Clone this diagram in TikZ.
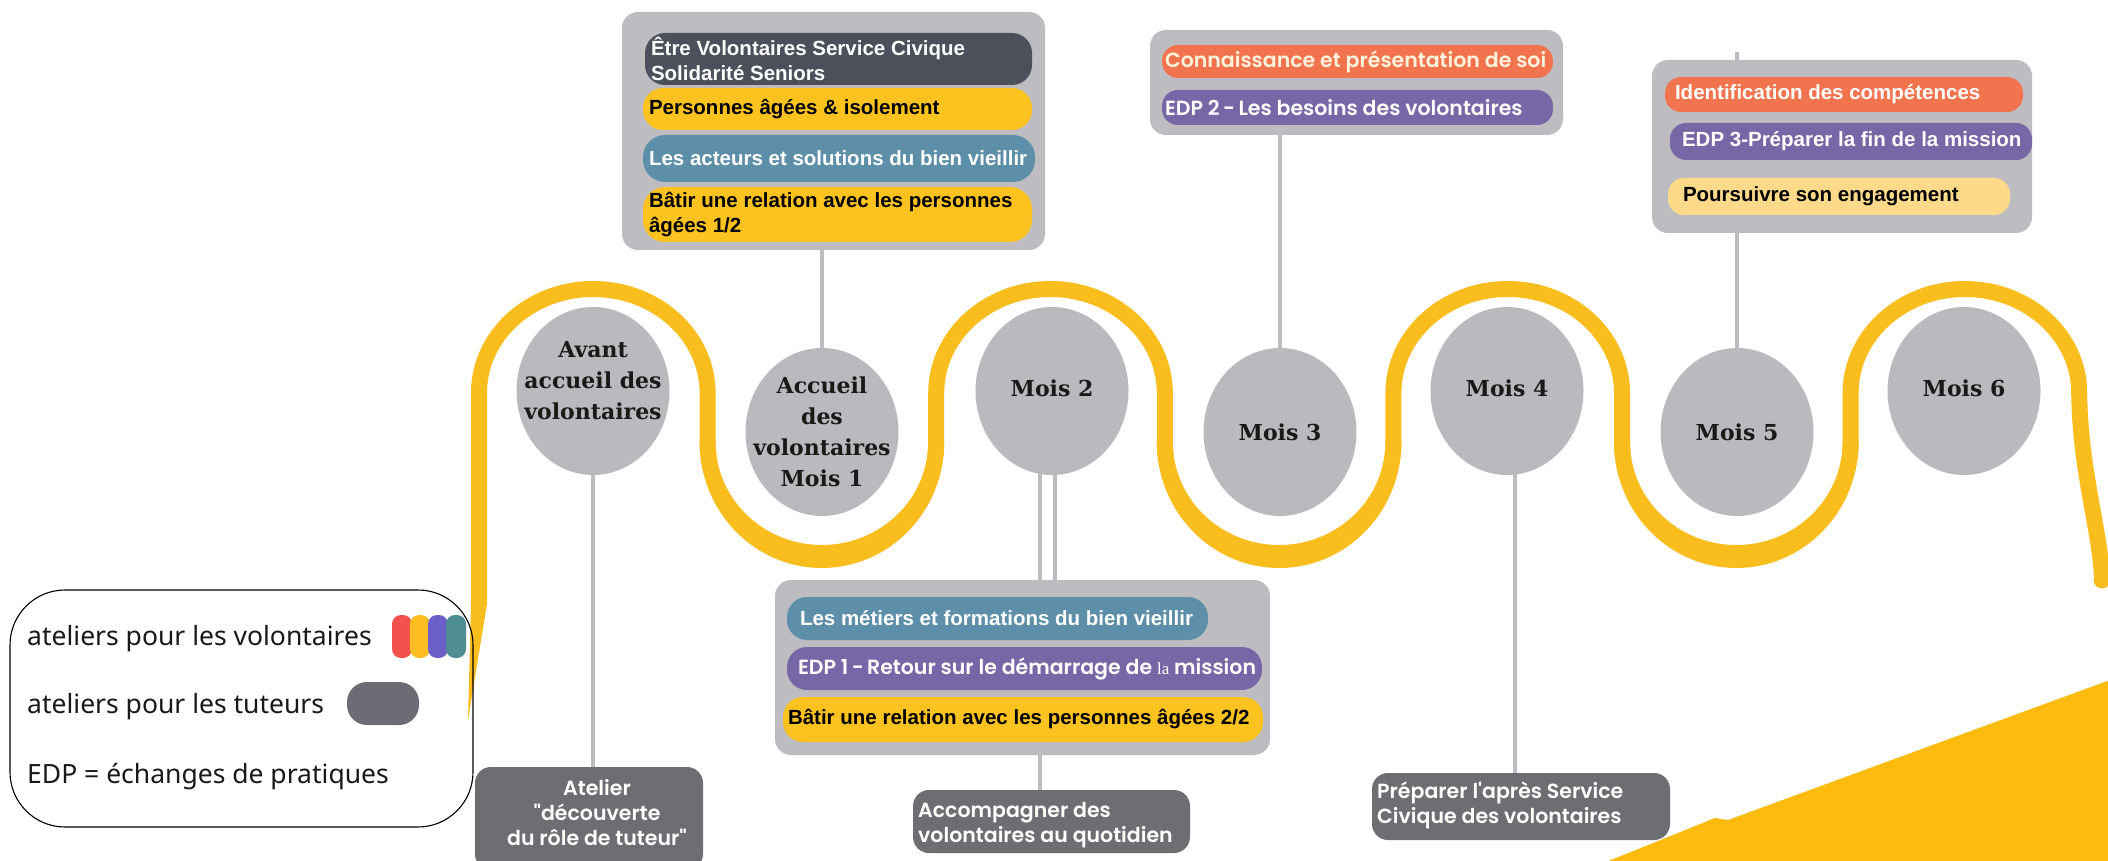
\documentclass[tikz,border=0pt]{standalone}
\usepackage{fontspec}
\setmainfont{Liberation Sans}
\newfontfamily\arialfam{Liberation Sans}
\IfFontExistsTF{Poppins SemiBold}{\newfontfamily\montfam{Poppins SemiBold}\newcommand\montwt{\mdseries}}{\newfontfamily\montfam{Poppins}\newcommand\montwt{\bfseries}}
\newfontfamily\slabfam{DejaVu Serif}
\newfontfamily\legfam{Noto Sans}
\newfontfamily\tmsfam{Liberation Serif}
\usetikzlibrary{shapes.geometric}
\definecolor{boxgray}{HTML}{BDBDC1}
\definecolor{ellgray}{HTML}{BABABE}
\definecolor{conngray}{HTML}{BDBDC1}
\definecolor{waveyellow}{HTML}{F9BE1D}
\definecolor{bigyellow}{HTML}{FDBC0D}
\definecolor{darkpill}{HTML}{4B505A}
\definecolor{ypill}{HTML}{FCC21F}
\definecolor{tealpill}{HTML}{5E8FA9}
\definecolor{orangepill}{HTML}{F2744F}
\definecolor{purplepill}{HTML}{7767A6}
\definecolor{lightypill}{HTML}{FDD98A}
\definecolor{darkbox}{HTML}{6D6E72}
\definecolor{legred}{HTML}{F2524B}
\definecolor{legyellow}{HTML}{FBBD22}
\definecolor{legpurple}{HTML}{6C5FC9}
\definecolor{legteal}{HTML}{4E8E92}
\definecolor{leggray}{HTML}{6B6C74}
\definecolor{creamtext}{HTML}{FFF3DC}
\newcommand\myAB{\arialfam\bfseries\fontsize{20.5}{25}\selectfont}
\newcommand\myMT{\montfam\montwt\fontsize{20.5}{25}\selectfont}
\newcommand\mySL{\slabfam\bfseries\fontsize{22}{31}\selectfont}
\newcommand\myLG{\legfam\fontsize{26.5}{30}\selectfont}
\begin{document}
\begin{tikzpicture}[x=1pt,y=1pt,
  gbox/.style={fill=boxgray, rounded corners=16pt, inner sep=0pt, draw=none},
  dbox/.style={fill=darkbox, rounded corners=16pt, inner sep=0pt, draw=none},
  pill/.style={rounded corners=16pt, inner sep=0pt, draw=none},
  ell/.style={ellipse, fill=ellgray, minimum width=153pt, minimum height=168pt, inner sep=0pt},
  ellt/.style={inner sep=0pt, align=center, font=\mySL, text=black!90},
  conn/.style={draw=conngray, line width=4.5pt},
  wave/.style={draw=waveyellow, line width=16pt},
  ab/.style={inner sep=0pt, font=\myAB, align=left},
  mt/.style={inner sep=0pt, font=\myMT, align=left, text=white},
  lg/.style={inner sep=0pt, font=\myLG, text=black!90},
  legpill/.style={rounded corners=9pt, inner sep=0pt, minimum width=20pt, minimum height=43pt, draw=none}
]
\useasboundingbox (0,0) rectangle (2108,860);
\clip (0,0) rectangle (2108,860);
\fill[white] (0,0) rectangle (2108,860);

% big yellow shape bottom right
\fill[bigyellow] (1606,-2) -- (1715,42) -- (1728,40) -- (2110,180) -- (2110,-2) -- cycle;

% the winding road
\fill[waveyellow] (471,256) -- (487,256) -- (468,140) -- cycle;
\draw[wave] (479,254) -- (479,467)
  arc[start angle=180,end angle=0,x radius=114.3,y radius=104] -- ++(0,-49)
  arc[start angle=180,end angle=360,x radius=114.3,y radius=118] -- ++(0,49)
  arc[start angle=180,end angle=0,x radius=114.3,y radius=104] -- ++(0,-49)
  arc[start angle=180,end angle=360,x radius=114.3,y radius=118] -- ++(0,49)
  arc[start angle=180,end angle=0,x radius=114.3,y radius=104] -- ++(0,-49)
  arc[start angle=180,end angle=360,x radius=114.3,y radius=118] -- ++(0,49)
  arc[start angle=180,end angle=0,x radius=114.3,y radius=104]
  .. controls (2080,390) and (2100,330) .. (2102,282);
\fill[waveyellow] (2102,280) circle (8.5);
% thicker bottoms of the U bends
\foreach \ux in {707.6,1164.8,1622}{
  \draw[wave] (\ux,418) arc[start angle=180,end angle=360,x radius=114.3,y radius=111];
}

% legend
\node[draw=black, line width=1.1pt, rounded corners=55pt, minimum width=463pt, minimum height=237pt, inner sep=0pt] (legend) at (241.5,151.5) {};
\node[lg, anchor=base west] (lg1) at (27,215) {ateliers pour les volontaires};
\node[lg, anchor=base west] (lg2) at (27,147) {ateliers pour les tuteurs};
\node[lg, anchor=base west] (lg3) at (27,77) {EDP = échanges de pratiques};
\node[legpill, fill=legred] (lp1) at (402,223.5) {};
\node[legpill, fill=legyellow] (lp2) at (420,223.5) {};
\node[legpill, fill=legpurple] (lp3) at (438,223.5) {};
\node[legpill, fill=legteal] (lp4) at (456,223.5) {};
\node[legpill, fill=leggray, minimum width=72pt, rounded corners=20pt] (lp5) at (383,156.5) {};

% ellipse centres
\coordinate (c0) at (593,469);
\coordinate (c1) at (822,428);
\coordinate (c2) at (1052,469);
\coordinate (c3) at (1280,428);
\coordinate (c4) at (1507,469);
\coordinate (c5) at (1737,428);
\coordinate (c6) at (1964,469);

% boxes
\node[gbox, minimum width=423pt, minimum height=238pt] (tl) at (833.5,729) {};
\node[gbox, minimum width=413pt, minimum height=105pt] (tm) at (1356.5,777.5) {};
\node[gbox, minimum width=380pt, minimum height=173pt] (tr) at (1842,713.5) {};
\node[gbox, minimum width=495pt, minimum height=175pt] (bm) at (1022.5,192.5) {};
\node[dbox, minimum width=228pt, minimum height=103pt] (b0) at (589,41.5) {};
\node[dbox, minimum width=277pt, minimum height=63pt] (acc) at (1051.5,38.5) {};
\node[dbox, minimum width=298pt, minimum height=67pt] (prep) at (1521,53.5) {};

% connectors
\coordinate (c2a) at ([xshift=-12pt]c2);
\coordinate (c2b) at ([xshift=3pt]c2);
\coordinate (c4a) at ([xshift=8pt]c4);
\draw[conn] (c1) -- (c1 |- tl.south);
\draw[conn] (c3) -- (c3 |- tm.south);
\draw[conn] (c5) -- (c5 |- tr.south);
\draw[conn] (c5 |- tr.north) -- ++(0,8);
\draw[conn] (c0) -- (c0 |- b0.north);
\draw[conn] (c2a) -- (c2a |- bm.north);
\draw[conn] (c2b) -- (c2b |- bm.north);
\draw[conn] (c2a |- bm.south) -- (c2a |- acc.north);
\draw[conn] (c4a) -- (c4a |- prep.north);

% ellipses
\node[ell] (e0) at (c0) {};
\node[ell] (e1) at (c1) {};
\node[ell] (e2) at (c2) {};
\node[ell] (e3) at (c3) {};
\node[ell] (e4) at (c4) {};
\node[ell] (e5) at (c5) {};
\node[ell] (e6) at (c6) {};
\node[ellt] (te0) at ([yshift=10pt]e0.center) {Avant\\accueil des\\volontaires};
\node[ellt] (te1) at (e1.center) {Accueil\\des\\volontaires\\Mois 1};
\node[ellt] (te2) at ([yshift=3pt]e2.center) {Mois 2};
\node[ellt] (te3) at (e3.center) {Mois 3};
\node[ellt] (te4) at ([yshift=3pt]e4.center) {Mois 4};
\node[ellt] (te5) at (e5.center) {Mois 5};
\node[ellt] (te6) at ([yshift=3pt]e6.center) {Mois 6};

% top-left box pills
\node[pill, fill=darkpill, minimum width=387pt, minimum height=52pt, rounded corners=20pt] (p1) at (838.5,801) {};
\node[pill, fill=ypill, minimum width=389pt, minimum height=42pt, rounded corners=20pt] (p2) at (837.5,751) {};
\node[pill, fill=tealpill, minimum width=392pt, minimum height=47pt, rounded corners=22pt] (p3) at (839,701.5) {};
\node[pill, fill=ypill, minimum width=389pt, minimum height=55pt, rounded corners=22pt] (p4) at (837.5,645.5) {};
\node[ab, text=white, anchor=west] (tp1) at ([xshift=6pt]p1.west) {Être Volontaires Service Civique\\Solidarité Seniors};
\node[ab, text=black, anchor=west] (tp2) at ([xshift=6pt]p2.west) {Personnes âgées \& isolement};
\node[ab, text=white, anchor=west] (tp3) at ([xshift=6pt]p3.west) {Les acteurs et solutions du bien vieillir};
\node[ab, text=black, anchor=west] (tp4) at ([xshift=6pt]p4.west) {Bâtir une relation avec les personnes\\âgées 1/2};

% top-middle box pills
\node[pill, fill=orangepill, minimum width=391pt, minimum height=33pt] (q1) at (1357.5,798.5) {};
\node[pill, fill=purplepill, minimum width=391pt, minimum height=35pt] (q2) at (1357.5,752.5) {};
\node[mt, text=creamtext, anchor=west] (tq1) at ([xshift=3pt]q1.west) {Connaissance et présentation de soi};
\node[mt, anchor=west] (tq2) at ([xshift=3pt]q2.west) {EDP 2\thinspace-\thinspace Les besoins des volontaires};

% top-right box pills
\node[pill, fill=orangepill, minimum width=358pt, minimum height=35pt] (r1) at (1844,765.5) {};
\node[pill, fill=purplepill, minimum width=362pt, minimum height=37pt] (r2) at (1851,718.5) {};
\node[pill, fill=lightypill, minimum width=342pt, minimum height=37pt] (r3) at (1839,663.5) {};
\node[ab, text=white, anchor=west] (tr1) at ([xshift=10pt]r1.west) {Identification des compétences};
\node[ab, text=white, anchor=west] (tr2) at ([xshift=12pt]r2.west) {EDP 3-Préparer la fin de la mission};
\node[ab, text=black, anchor=west] (tr3) at ([xshift=15pt]r3.west) {Poursuivre son engagement};

% bottom-middle box pills
\node[pill, fill=tealpill, minimum width=421pt, minimum height=43pt, rounded corners=20pt] (s1) at (997.5,241.5) {};
\node[pill, fill=purplepill, minimum width=475pt, minimum height=43pt, rounded corners=20pt] (s2) at (1024.5,191.5) {};
\node[pill, fill=ypill, minimum width=480pt, minimum height=45pt, rounded corners=20pt] (s3) at (1023,140.5) {};
\node[ab, text=white, anchor=west] (ts1) at ([xshift=13pt]s1.west) {Les métiers et formations du bien vieillir};
\node[mt, anchor=west] (ts2) at ([xshift=11pt]s2.west) {EDP 1\thinspace-\thinspace Retour sur le démarrage de {\tmsfam\mdseries\fontsize{17}{20}\selectfont la} mission};
\node[ab, text=black, anchor=west] (ts3) at ([xshift=5pt]s3.west) {Bâtir une relation avec les personnes âgées 2/2};

% bottom dark boxes texts
\node[mt, align=center] (tb0) at (597,47) {Atelier\\"découverte\\du rôle de tuteur"};
\node[mt, anchor=west] (tacc) at (918,35) {Accompagner des\\volontaires au quotidien};
\node[mt, anchor=west] (tprep) at (1377,55) {Préparer l'après Service\\Civique des volontaires};
\end{tikzpicture}
\end{document}
